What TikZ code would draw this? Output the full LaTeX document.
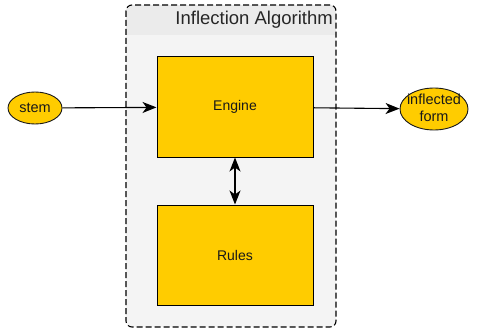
\documentclass[tikz,border=0pt]{standalone}
\usepackage{fontspec}
\setmainfont{Liberation Sans}
\usetikzlibrary{arrows.meta,shapes.geometric}
\definecolor{gold}{HTML}{FFCC00}
\definecolor{panel}{HTML}{F4F4F4}
\definecolor{panelhead}{HTML}{EBEBEB}
\begin{document}
\begin{tikzpicture}[x=1pt,y=-1pt,
  >={Stealth[length=14pt,width=11pt,inset=4pt]},
  block/.style={draw=black,fill=gold,line width=1pt,minimum width=156pt,minimum height=100pt,font=\fontsize{14}{16}\selectfont,text=black!90},
  term/.style={ellipse,draw=black!90,fill=gold,line width=0.9pt,inner sep=0pt},
  termtext/.style={font=\fontsize{14.5}{17}\selectfont,align=center,inner sep=0pt,text=black!90},
  flow/.style={->,line width=1.1pt}]
\useasboundingbox (0,0) rectangle (481,334);
% container panel with header band
\begin{scope}
\clip[rounded corners=6pt] (126,5) rectangle (336,327);
\fill[panel] (126,5) rectangle (336,327);
\fill[panelhead] (126,5) rectangle (336,35);
\end{scope}
\draw[line width=1.1pt,dash pattern=on 6pt off 3pt,rounded corners=6pt] (126,5) rectangle (336,327);
\node[anchor=east,font=\fontsize{18.5}{20}\selectfont,text=black!85,inner sep=0pt] (title) at (333,20) {Inflection Algorithm};
% blocks
\node[block] (engine) at (235,107) {Engine};
\node[block] (rules) at (235,255) {Rules};
% terminals
\node[term,minimum width=54pt,minimum height=32pt] (stem) at (35,108) {};
\node[termtext] (stemlabel) at (stem) {stem};
\node[term,minimum width=68pt,minimum height=42pt] (out) at (434,109) {};
\node[termtext] (outlabel) at ([yshift=1pt]out.center) {inflected\\form};
% connectors
\draw[flow] (stem) -- (engine);
\draw[flow] (engine) -- (out);
\draw[<->,line width=1.1pt] (engine) -- (rules);
\end{tikzpicture}
\end{document}
